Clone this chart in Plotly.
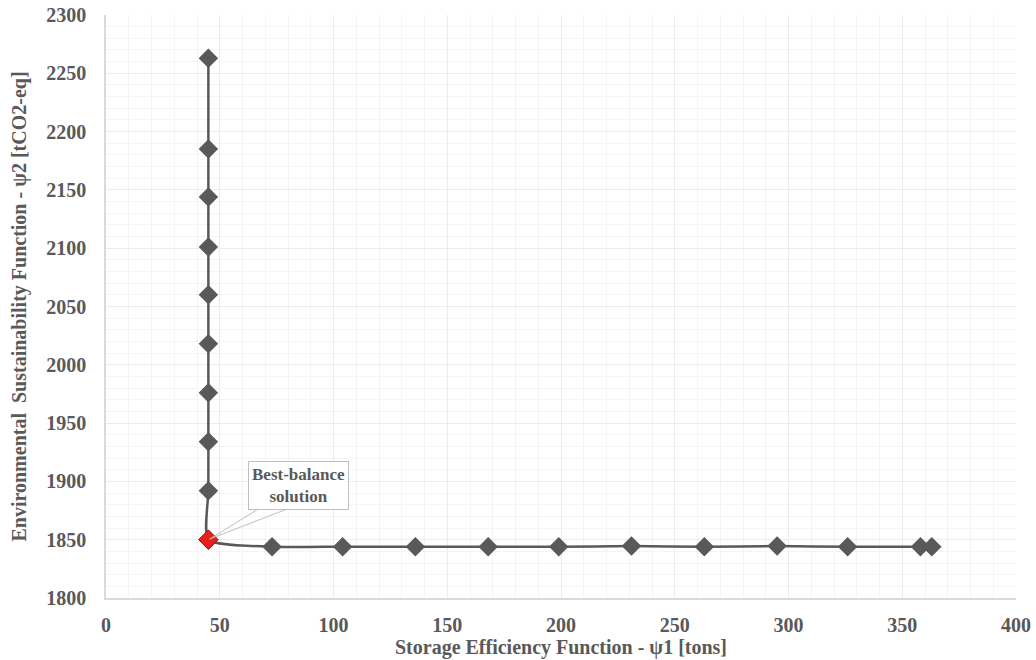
import plotly.graph_objects as go

# Vertical branch (psi1 ~ 45) and horizontal branch (psi2 ~ 1844)
psi1 = [45, 45, 45, 45, 45, 45, 45, 45, 45, 45,
        73, 104, 136, 168, 199, 231, 263, 295, 326, 358, 363]
psi2 = [2263, 2185, 2144, 2101, 2060, 2018, 1976, 1934, 1892, 1850,
        1844, 1844, 1844, 1844, 1844, 1844.5, 1844, 1844.5, 1844, 1844, 1844]
best_psi1 = [45]
best_psi2 = [1850]

x_ticks = [0, 50, 100, 150, 200, 250, 300, 350, 400]
y_ticks = [1800, 1850, 1900, 1950, 2000, 2050, 2100, 2150, 2200, 2250, 2300]

GRAY = "#595959"
FONT = "Liberation Serif"

fig = go.Figure()
fig.add_trace(go.Scatter(
    x=psi1, y=psi2, mode="lines+markers",
    line=dict(color=GRAY, width=2.5, shape="spline", smoothing=0.6),
    marker=dict(symbol="diamond", size=15, color=GRAY),
    showlegend=False, hoverinfo="skip"))
fig.add_trace(go.Scatter(
    x=best_psi1, y=best_psi2, mode="markers",
    marker=dict(symbol="diamond", size=15, color="#e8201c",
                line=dict(color="#c00000", width=1)),
    showlegend=False, hoverinfo="skip"))

# callout wedge
fig.add_shape(type="path", xref="x", yref="y",
              path="M 67.5,1877 L 45.5,1850.5 L 80.5,1877",
              line=dict(color="#bfbfbf", width=1), fillcolor="rgba(0,0,0,0)",
              layer="above")
fig.add_annotation(x=84.4, y=1896.5, xref="x", yref="y", showarrow=False,
                   text="Best-balance<br>solution", align="center",
                   font=dict(family=FONT, size=17, color=GRAY, weight="bold"),
                   bgcolor="white", bordercolor="#bfbfbf", borderwidth=1,
                   borderpad=3)

axis_common = dict(
    showline=True, linecolor="#d9d9d9", linewidth=1.5,
    showgrid=True, gridcolor="#ececec", gridwidth=1,
    zeroline=False, ticks="", automargin=False,
    tickfont=dict(family=FONT, size=20, color=GRAY, weight="bold"),
)
fig.update_xaxes(
    range=[0, 400], tickvals=x_ticks,
    minor=dict(dtick=10, showgrid=True, gridcolor="#f4f4f4", gridwidth=1),
    title=dict(text="Storage Efficiency Function - ψ1 [tons]",
               font=dict(family=FONT, size=20, color=GRAY, weight="bold"),
               standoff=4),
    ticklabelstandoff=8,
    **axis_common)
fig.update_yaxes(
    range=[1800, 2300], tickvals=y_ticks,
    minor=dict(dtick=10, showgrid=True, gridcolor="#f4f4f4", gridwidth=1),
    title=dict(text="Environmental  Sustainability Function - ψ2 [tCO2-eq]",
               font=dict(family=FONT, size=20, color=GRAY, weight="bold"),
               standoff=14),
    ticklabelstandoff=14,
    **axis_common)
fig.update_layout(
    width=1036, height=660,
    margin=dict(l=106, r=20, t=15, b=62),
    paper_bgcolor="white", plot_bgcolor="white",
    font=dict(family=FONT, color=GRAY),
)
fig.write_html("out.html",
               config={"displayModeBar": False},
               post_script="document.body.style.margin='0';"
                           "document.body.style.overflow='hidden';")
